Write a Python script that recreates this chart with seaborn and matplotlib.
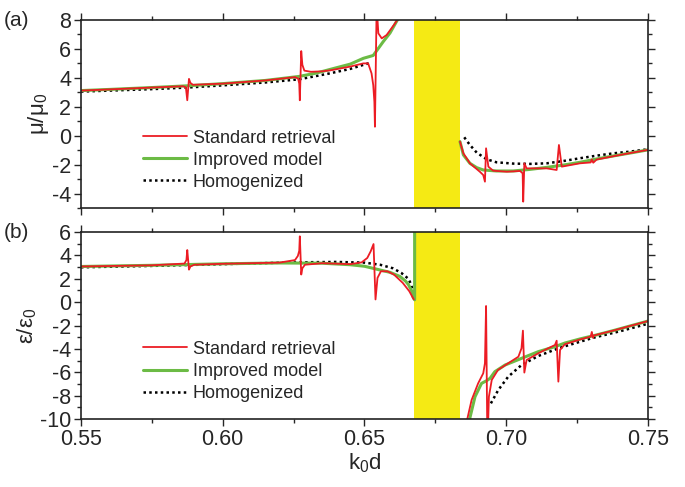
import numpy as np
import pandas as pd
import matplotlib
matplotlib.use('Agg')
import matplotlib.pyplot as plt
from matplotlib.ticker import MultipleLocator, FormatStrFormatter
from matplotlib.lines import Line2D
import seaborn as sns

# ---------------- data ----------------
# band gap (yellow)
band_lo, band_hi = 0.6675, 0.6837

# (a) mu/mu0  -- below the gap
mu_red_k1 = [0.550, 0.560, 0.575, 0.5860, 0.5870, 0.5875, 0.5881, 0.5886, 0.5895, 0.600, 0.615,
             0.6255, 0.6266, 0.6270, 0.6272, 0.6277, 0.6281, 0.6288, 0.6311, 0.635, 0.638, 0.645,
             0.6496, 0.6513, 0.6525, 0.6531, 0.6535, 0.6537, 0.6543, 0.6549, 0.6561, 0.6578,
             0.6608, 0.6625]
mu_red_v1 = [3.12, 3.20, 3.33, 3.42, 3.35, 2.45, 3.93, 3.65, 3.52, 3.60, 3.82,
             4.05, 3.95, 3.60, 2.45, 5.85, 4.90, 4.50, 4.42, 4.45, 4.52, 4.78,
             5.00, 5.00, 4.31, 3.50, 2.35, 0.62, 9.00, 7.08, 6.73, 6.96,
             7.77, 8.30]
mu_grn_k1 = [0.550, 0.560, 0.575, 0.5875, 0.600, 0.615, 0.627, 0.633, 0.6378, 0.645, 0.6496,
             0.6531, 0.6566, 0.659, 0.6614, 0.6625]
mu_grn_v1 = [3.12, 3.20, 3.33, 3.45, 3.60, 3.82, 4.10, 4.33, 4.58, 4.95, 5.35,
             5.55, 6.50, 7.10, 7.93, 8.30]
mu_hom_k1 = [0.550, 0.575, 0.5875, 0.600, 0.615, 0.627, 0.6378, 0.645, 0.6513, 0.652]
mu_hom_v1 = [3.05, 3.22, 3.33, 3.48, 3.68, 3.90, 4.31, 4.62, 5.00, 5.05]

# (a) mu/mu0  -- above the gap
mu_red_k2 = [0.6837, 0.6849, 0.6872, 0.6907, 0.6919, 0.6925, 0.6929, 0.6937, 0.6954, 0.7002,
             0.7049, 0.7058, 0.7060, 0.7064, 0.7072, 0.7143, 0.7178, 0.7186, 0.7196, 0.7260,
             0.7298, 0.7302, 0.7307, 0.7319, 0.7378, 0.7437, 0.750]
mu_red_v2 = [-0.41, -1.22, -1.91, -2.49, -2.72, -3.18, -0.87, -2.14, -2.42, -2.49,
             -2.44, -2.60, -4.56, -1.91, -2.26, -2.26, -2.37, -0.64, -2.14, -1.91,
             -1.85, -1.64, -1.87, -1.65, -1.42, -1.20, -0.98]
mu_grn_k2 = [0.6837, 0.6849, 0.6872, 0.6896, 0.6919, 0.6966, 0.7025, 0.7084, 0.7143, 0.7202,
             0.7260, 0.7319, 0.7378, 0.7437, 0.750]
mu_grn_v2 = [-0.41, -1.33, -1.91, -2.21, -2.37, -2.44, -2.44, -2.33, -2.19, -2.03,
             -1.84, -1.61, -1.40, -1.20, -0.98]
mu_hom_k2 = [0.6852, 0.6872, 0.6896, 0.6931, 0.6966, 0.7025, 0.7084, 0.7143, 0.7202, 0.7260,
             0.7319, 0.7378, 0.7437, 0.750]
mu_hom_v2 = [-0.11, -0.64, -1.17, -1.63, -1.84, -1.93, -1.95, -1.91, -1.75, -1.56,
             -1.38, -1.22, -1.10, -0.94]

# (b) eps/eps0 -- below the gap
ep_red_k1 = [0.550, 0.575, 0.5865, 0.5872, 0.5875, 0.5881, 0.5886, 0.590, 0.600, 0.620,
             0.6255, 0.6265, 0.6270, 0.6272, 0.6277, 0.6281, 0.6290, 0.635, 0.645, 0.6490,
             0.6510, 0.6522, 0.6532, 0.6539, 0.6546, 0.6558, 0.6581, 0.6604, 0.6635, 0.6658,
             0.6674]
ep_red_v1 = [3.05, 3.15, 3.30, 3.60, 4.46, 2.78, 3.05, 3.20, 3.28, 3.38,
             3.60, 3.95, 4.40, 5.63, 2.36, 2.90, 3.20, 3.33, 3.25, 3.40,
             3.78, 4.35, 4.97, 0.23, 2.07, 2.64, 2.64, 2.36, 1.65, 0.94,
             0.23]
ep_grn_k1 = [0.550, 0.575, 0.600, 0.620, 0.635, 0.645, 0.650, 0.6555, 0.659, 0.6625,
             0.6645, 0.6655, 0.6666, 0.6672, 0.6677, 0.6677]
ep_grn_v1 = [3.05, 3.15, 3.28, 3.35, 3.33, 3.20, 3.07, 2.75, 2.55, 2.20,
             1.80, 1.50, 1.00, 0.40, 0.20, 7.00]
ep_hom_k1 = [0.550, 0.575, 0.600, 0.625, 0.640, 0.650, 0.6555, 0.660, 0.663, 0.6655,
             0.6665, 0.6670]
ep_hom_v1 = [2.98, 3.10, 3.25, 3.40, 3.44, 3.38, 3.20, 2.90, 2.50, 2.00,
             1.50, 0.95]

# (b) eps/eps0 -- above the gap
ep_red_k2 = [0.6858, 0.6878, 0.6901, 0.6919, 0.6925, 0.6929, 0.6933, 0.6936, 0.6939, 0.6949,
             0.6971, 0.7007, 0.7043, 0.7054, 0.7059, 0.7064, 0.7072, 0.7113, 0.7148, 0.7172,
             0.7178, 0.7184, 0.7190, 0.7207, 0.726, 0.7298, 0.7302, 0.7306, 0.731, 0.738,
             0.744, 0.750]
ep_red_v2 = [-10.5, -8.37, -6.95, -6.09, -5.23, -0.33, -10.5, -10.5, -8.09, -6.66,
             -5.80, -5.23, -4.67, -3.95, -2.44, -6.03, -4.95, -4.38, -3.95, -3.67,
             -3.30, -6.80, -4.09, -3.60, -3.20, -2.95, -2.55, -3.05, -2.85, -2.42,
             -2.02, -1.62]
ep_grn_k2 = [0.6866, 0.6890, 0.6913, 0.6931, 0.6943, 0.6960, 0.6996, 0.7054, 0.7113, 0.7172,
             0.7207, 0.726, 0.732, 0.738, 0.744, 0.750]
ep_grn_v2 = [-10.5, -8.09, -6.95, -6.72, -6.52, -5.95, -5.38, -4.81, -4.24, -3.81,
             -3.50, -3.15, -2.80, -2.42, -2.02, -1.62]
ep_hom_k2 = [0.6946, 0.6972, 0.7007, 0.7054, 0.7113, 0.719, 0.7307, 0.740, 0.750]
ep_hom_v2 = [-8.66, -7.52, -6.38, -5.38, -4.61, -3.90, -3.05, -2.50, -1.85]

serie_adlari = ['Standard retrieval', 'Improved model', 'Homogenized']

# ---------------- style ----------------
sns.set_style('ticks')
plt.rcParams['font.family'] = ['Liberation Sans', 'DejaVu Sans']
plt.rcParams['mathtext.fontset'] = 'custom'
plt.rcParams['mathtext.rm'] = 'Liberation Sans'
plt.rcParams['mathtext.it'] = 'Liberation Sans:italic'
plt.rcParams['mathtext.default'] = 'regular'
plt.rcParams['axes.unicode_minus'] = False

KIRMIZI = '#ec1c24'
YESIL = '#6cbb45'
SARI = '#f5ea14'
stiller = {
    'red': dict(color=KIRMIZI, linewidth=1.3),
    'grn': dict(color=YESIL, linewidth=2.2),
    'hom': dict(color='black', linewidth=1.8, linestyle=(0, (1, 1.3))),
}

fig = plt.figure(figsize=(6.85, 4.87), dpi=100)
ax1 = fig.add_axes([0.1182, 0.5729, 0.8277, 0.386])
ax2 = fig.add_axes([0.1182, 0.1396, 0.8277, 0.384])


def ciz(ax, parcalar):
    # parcalar: list of (key, k, v) segments
    for key, k, v in parcalar:
        sns.lineplot(x=k, y=v, ax=ax, sort=False, estimator=None, **stiller[key])


ciz(ax1, [('hom', mu_hom_k1, mu_hom_v1), ('hom', mu_hom_k2, mu_hom_v2),
          ('grn', mu_grn_k1, mu_grn_v1), ('grn', mu_grn_k2, mu_grn_v2),
          ('red', mu_red_k1, mu_red_v1), ('red', mu_red_k2, mu_red_v2)])
ciz(ax2, [('hom', ep_hom_k1, ep_hom_v1), ('hom', ep_hom_k2, ep_hom_v2),
          ('grn', ep_grn_k1, ep_grn_v1), ('grn', ep_grn_k2, ep_grn_v2),
          ('red', ep_red_k1, ep_red_v1), ('red', ep_red_k2, ep_red_v2)])

for ax, (ylo, yhi) in [(ax1, (-5, 8)), (ax2, (-10, 6))]:
    ax.axvspan(band_lo, band_hi, color=SARI, zorder=0.5, linewidth=0)
    ax.set_xlim(0.55, 0.75)
    ax.set_ylim(ylo, yhi)
    ax.xaxis.set_major_locator(MultipleLocator(0.05))
    ax.xaxis.set_minor_locator(MultipleLocator(0.025))
    ax.yaxis.set_major_locator(MultipleLocator(2))
    ax.yaxis.set_minor_locator(MultipleLocator(1))
    ax.xaxis.set_major_formatter(FormatStrFormatter('%.2f'))
    ax.tick_params(which='both', direction='out', top=True, right=True,
                   labelsize=15.5, width=1.0, pad=2)
    ax.tick_params(which='major', length=5)
    ax.tick_params(which='minor', length=3)
    for s in ax.spines.values():
        s.set_linewidth(1.2)
        s.set_color('#222222')
    ax.set_xlabel('')

ax1.tick_params(labelbottom=False)
ax1.set_ylabel('μ/μ$_0$', fontsize=16, labelpad=1)
ax2.set_ylabel('ε/ε$_0$', fontsize=16, labelpad=1)
ax2.set_xlabel('k$_0$d', fontsize=16, labelpad=1)

# legends
tutamaclar = [Line2D([], [], **stiller['red']), Line2D([], [], **stiller['grn']),
              Line2D([], [], **stiller['hom'])]
for ax in (ax1, ax2):
    ax.legend(tutamaclar, serie_adlari, loc='center left', bbox_to_anchor=(0.11, 0.255),
              frameon=False, fontsize=13, handlelength=2.4, handletextpad=0.35,
              labelspacing=0.28, borderpad=0, borderaxespad=0)

fig.text(0.005, 1 - 20 / 487, '(a)', fontsize=15, va='center', ha='left')
fig.text(0.005, 1 - 233 / 487, '(b)', fontsize=15, va='center', ha='left')

plt.savefig('out.png', dpi=100)
